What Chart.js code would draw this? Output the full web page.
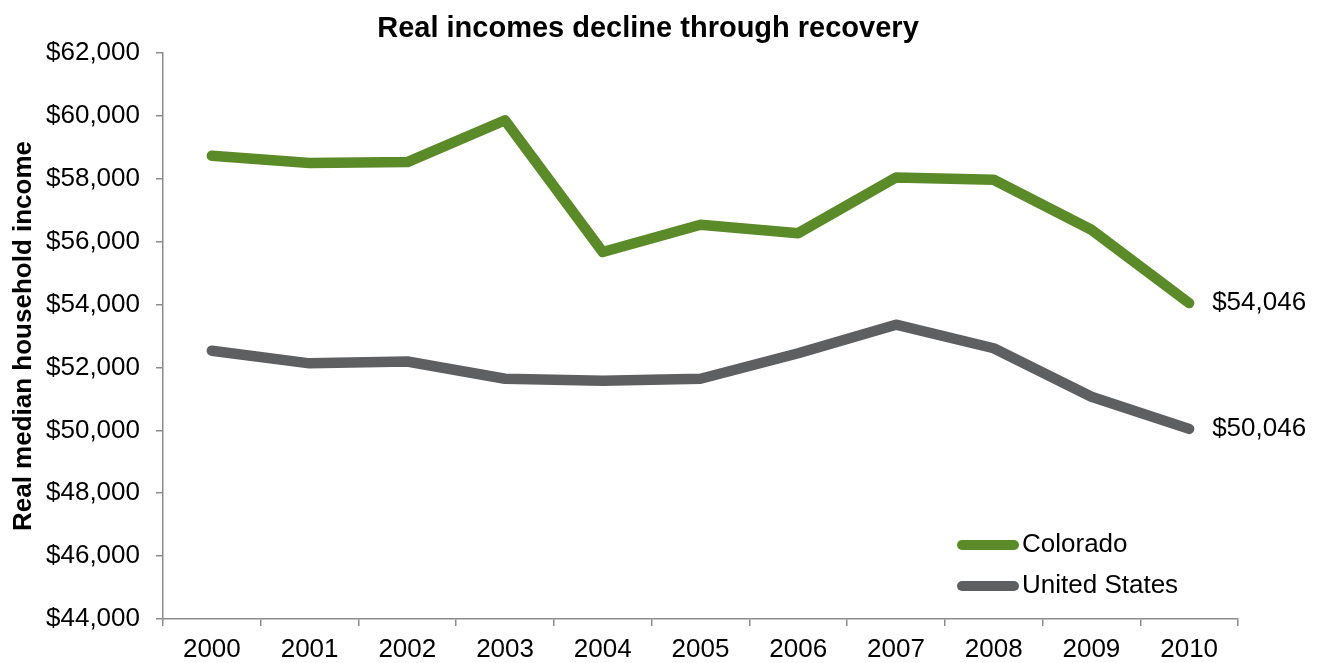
<!DOCTYPE html>
<html>
<head>
<meta charset="utf-8">
<script src="https://cdn.jsdelivr.net/npm/chart.js@4/dist/chart.umd.min.js"></script>
<style>
  html, body { margin: 0; padding: 0; background: #fff; }
  #wrap { width: 1324px; height: 663px; position: relative; }
</style>
</head>
<body>
<div id="wrap"><canvas id="incomeChart"></canvas></div>
<script>
// median household income, inflation adjusted
const years = ['2000', '2001', '2002', '2003', '2004', '2005', '2006', '2007', '2008', '2009', '2010'];
const colorado = [58730, 58500, 58530, 59860, 55670, 56540, 56270, 58040, 57970, 56380, 54046];
const unitedStates = [52530, 52130, 52190, 51640, 51580, 51640, 52450, 53360, 52610, 51070, 50046];
const seriesNames = ['Colorado', 'United States'];
const seriesColors = ['#5b8a29', '#5e5f61'];
const yMin = 44000, yMax = 62000, yStep = 2000;

const FONT = '"Liberation Sans", Arial, Helvetica, sans-serif';
const money = v => '$' + Number(v).toLocaleString('en-US');

// chart title
const titlePlugin = {
  id: 'titleText',
  afterDraw(chart) {
    const ctx = chart.ctx;
    ctx.save();
    ctx.font = 'bold 29px ' + FONT;
    ctx.fillStyle = '#000';
    ctx.textAlign = 'center';
    ctx.textBaseline = 'alphabetic';
    ctx.fillText('Real incomes decline through recovery', 648, 37);
    ctx.restore();
  }
};

// value label after the last point of each line
const endLabels = {
  id: 'endLabels',
  afterDatasetsDraw(chart) {
    const ctx = chart.ctx;
    ctx.save();
    ctx.font = '26px ' + FONT;
    ctx.fillStyle = '#000';
    ctx.textBaseline = 'middle';
    chart.data.datasets.forEach((ds, i) => {
      const pts = chart.getDatasetMeta(i).data;
      const last = pts[pts.length - 1];
      ctx.fillText(money(ds.data[ds.data.length - 1]), last.x + 23, last.y);
    });
    ctx.restore();
  }
};

// legend sits inside the plot, bottom right
const innerLegend = {
  id: 'innerLegend',
  afterDraw(chart) {
    const { ctx, chartArea } = chart;
    ctx.save();
    ctx.font = '26px ' + FONT;
    ctx.textBaseline = 'middle';
    chart.data.datasets.forEach((ds, i) => {
      const y = chartArea.bottom - 74 + i * 41;
      const x0 = chartArea.right - 276;
      ctx.strokeStyle = ds.borderColor;
      ctx.lineWidth = 10;
      ctx.lineCap = 'round';
      ctx.beginPath();
      ctx.moveTo(x0, y);
      ctx.lineTo(x0 + 52, y);
      ctx.stroke();
      ctx.fillStyle = '#000';
      ctx.fillText(ds.label, x0 + 60, y);
    });
    ctx.restore();
  }
};

const lineStyle = color => ({
  borderColor: color,
  backgroundColor: color,
  borderWidth: 10.5,
  borderCapStyle: 'round',
  borderJoinStyle: 'round',
  pointRadius: 0,
  pointHoverRadius: 0,
  tension: 0,
  fill: false
});

new Chart(document.getElementById('incomeChart'), {
  type: 'line',
  data: {
    labels: years,
    datasets: [
      { label: seriesNames[0], data: colorado, ...lineStyle(seriesColors[0]) },
      { label: seriesNames[1], data: unitedStates, ...lineStyle(seriesColors[1]) }
    ]
  },
  options: {
    responsive: true,
    maintainAspectRatio: false,
    animation: false,
    layout: { padding: { top: 53, right: 86, left: 0, bottom: 0 } },
    plugins: {
      legend: { display: false },
      title: { display: false },
      tooltip: { enabled: false }
    },
    scales: {
      x: {
        offset: true,
        grid: { offset: true, drawOnChartArea: false, drawTicks: true, tickLength: 7, color: '#8c8c8c', lineWidth: 1.5 },
        border: { color: '#8c8c8c', width: 1.5 },
        ticks: { color: '#000', font: { family: FONT, size: 26 }, padding: 8, maxRotation: 0 },
        afterFit: s => { s.height = 44; }
      },
      y: {
        min: yMin,
        max: yMax,
        grid: { drawOnChartArea: false, drawTicks: true, tickLength: 7, color: '#8c8c8c', lineWidth: 1.5 },
        border: { color: '#8c8c8c', width: 1.5 },
        ticks: {
          stepSize: yStep,
          color: '#000',
          font: { family: FONT, size: 26 },
          padding: 16,
          callback: v => money(v)
        },
        title: {
          display: true,
          text: 'Real median household income',
          color: '#000',
          font: { family: FONT, size: 26, weight: 'bold' },
          padding: { top: 8, bottom: 0 }
        },
        afterFit: s => { s.width = 163; }
      }
    }
  },
  plugins: [titlePlugin, endLabels, innerLegend]
});
</script>
</body>
</html>
